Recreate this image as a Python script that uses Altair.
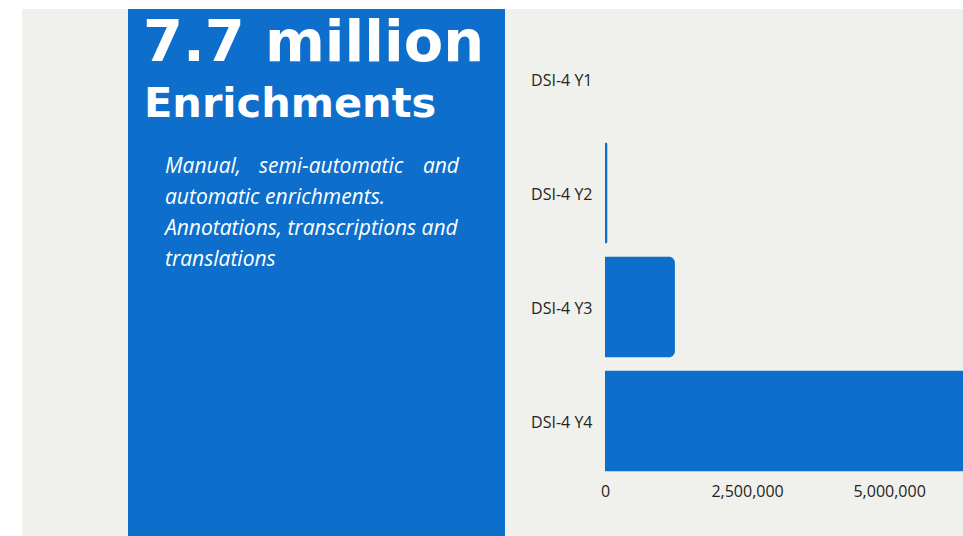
import altair as alt
import pandas as pd

categories = ["DSI-4 Y1", "DSI-4 Y2", "DSI-4 Y3", "DSI-4 Y4"]
values = [0, 40000, 1230000, 6440000]
tick_values = [0, 2500000, 5000000]
headline = ["7.7 million"]
subhead = ["Enrichments"]
line1_words = ["Manual,", "semi-automatic", "and"]
body_lines = ["automatic enrichments.", "Annotations, transcriptions and", "translations"]

BLUE = "#0D6FCB"
GREY = "#F0F0EC"
INK = "#252423"

OX, OY = 605, 22  # page position of plot origin


def px(x):
    return x - OX


def py(y):
    return y - OY


one = pd.DataFrame({"k": [0]})

white_top = alt.Chart(one).mark_rect(color="white").encode(
    x=alt.value(px(0)), x2=alt.value(px(963)), y=alt.value(py(0)), y2=alt.value(py(9))
)
white_left = alt.Chart(one).mark_rect(color="white").encode(
    x=alt.value(px(0)), x2=alt.value(px(22)), y=alt.value(py(0)), y2=alt.value(py(536))
)
panel = alt.Chart(one).mark_rect(color=BLUE).encode(
    x=alt.value(px(128)), x2=alt.value(px(505)), y=alt.value(py(9)), y2=alt.value(py(536))
)


def text_layer(s, x, y, size, weight="normal", style="normal", align="left", font="Open Sans"):
    return alt.Chart(pd.DataFrame({"t": [s]})).mark_text(
        align=align, baseline="alphabetic", font=font, fontSize=size,
        fontWeight=weight, fontStyle=style, color="white"
    ).encode(x=alt.value(px(x)), y=alt.value(py(y)), text="t:N")


texts = [
    text_layer(headline[0], 143, 61, 57.5, weight="bold", font="DejaVu Sans"),
    text_layer(subhead[0], 144, 117, 41.5, weight="bold", font="DejaVu Sans"),
    text_layer(line1_words[0], 165, 173, 21, style="italic"),
    text_layer(line1_words[1], 259, 173, 21, style="italic"),
    text_layer(line1_words[2], 459, 173, 21, style="italic", align="right"),
    text_layer(body_lines[0], 165, 204, 21, style="italic"),
    text_layer(body_lines[1], 165, 235, 21, style="italic"),
    text_layer(body_lines[2], 165, 266, 21, style="italic"),
]

bars_df = pd.DataFrame({"category": categories, "amount": values})

bars = alt.Chart(bars_df).mark_bar(color=BLUE, cornerRadiusEnd=6).encode(
    y=alt.Y(
        "category:N", sort=categories, title=None,
        scale=alt.Scale(type="band", paddingInner=0.12, paddingOuter=0.06),
        axis=alt.Axis(ticks=False, domain=False, labelPadding=13, labelFontSize=16,
                      labelColor=INK, labelFont="Open Sans", labelOffset=2, zindex=1),
    ),
    x=alt.X(
        "amount:Q", title=None, stack=None,
        scale=alt.Scale(type="linear", domain=[0, 6300000], nice=False),
        axis=alt.Axis(values=tick_values, format=",.0f", grid=False, ticks=False, domain=False,
                      labelPadding=5, labelFontSize=16, labelColor=INK, labelFont="Open Sans",
                      labelFlush=False, zindex=1),
    ),
)

chart = alt.layer(white_top, white_left, panel, *texts, bars).properties(
    width=358, height=456,
    padding={"left": 605, "top": 22, "right": 0, "bottom": 58},
    autosize=alt.AutoSizeParams(type="none"),
    background=GREY,
).configure_view(stroke=None)

chart.save("out.html", embed_options={"renderer": "svg", "actions": False})
